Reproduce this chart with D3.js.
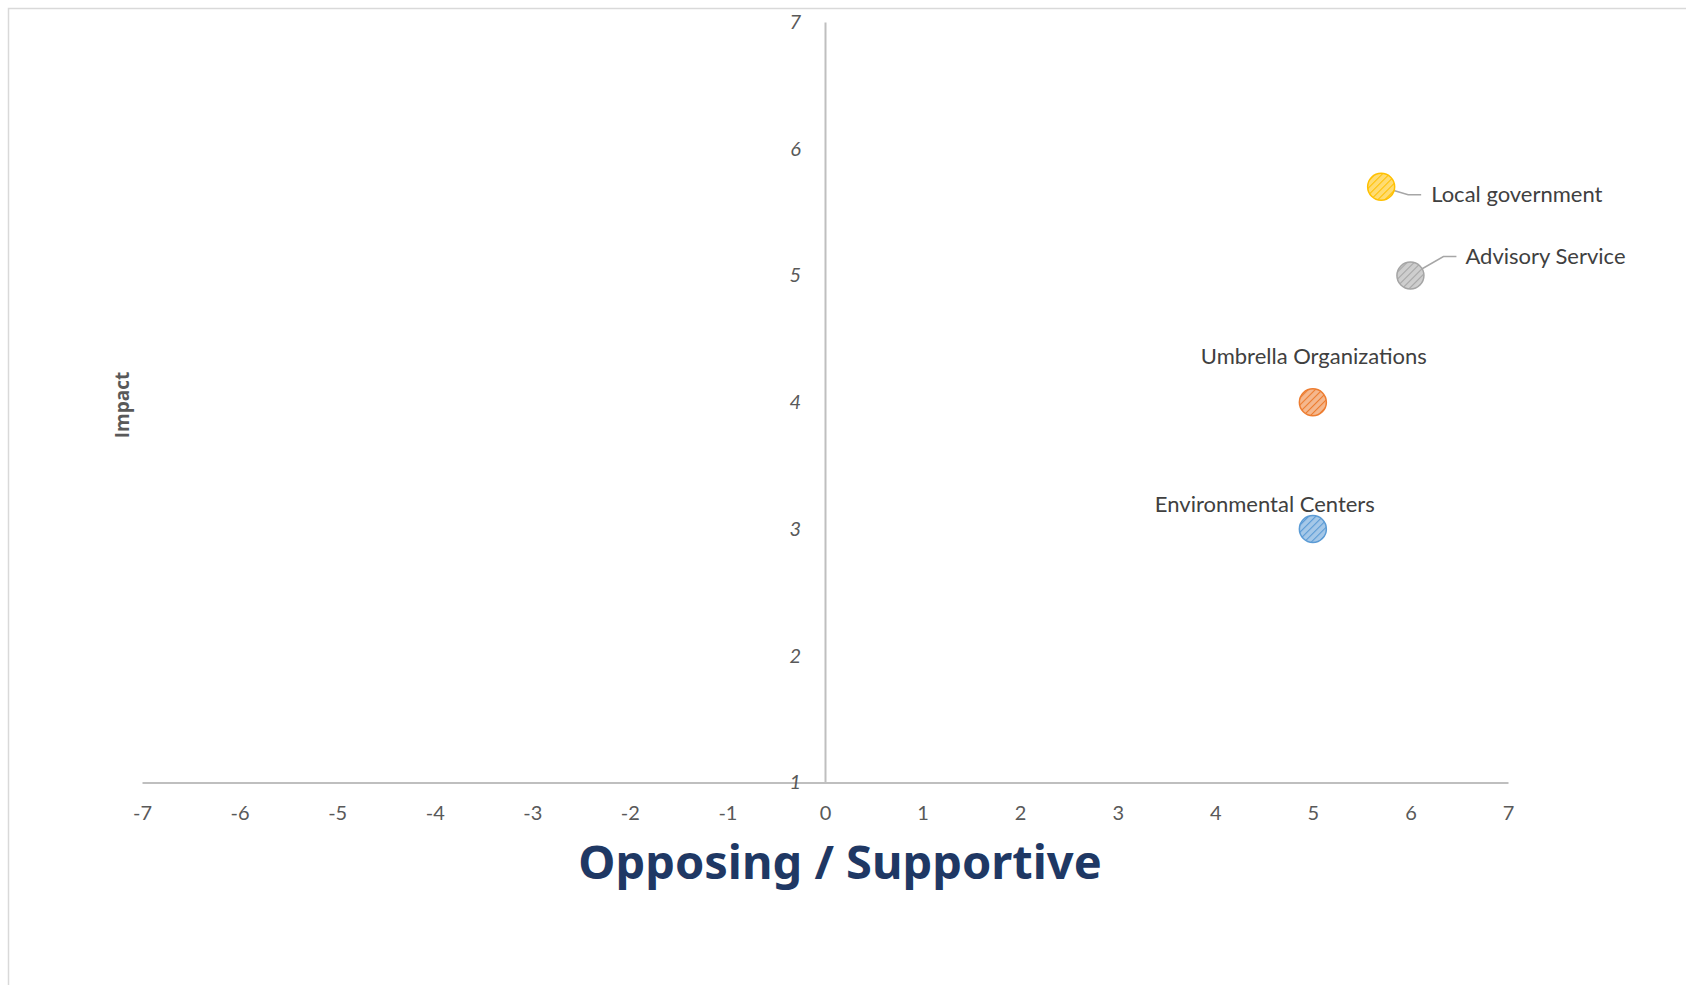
<!DOCTYPE html>
<html>
<head>
<meta charset="utf-8">
<script src="https://cdn.jsdelivr.net/npm/d3@7"></script>
<style>
  html, body { margin: 0; padding: 0; background: #ffffff; }
  svg { display: block; }
</style>
</head>
<body>
<svg id="chart" width="1686" height="985"></svg>
<script>
// Stakeholder positions: support (x) against impact (y)
const stakeholders = ["Local government", "Advisory Service", "Umbrella Organizations", "Environmental Centers"];
const supportValues = [5.7, 6, 5, 5];
const impactValues = [5.7, 5, 4, 3];
const seriesColors = ["#FFC000", "#A5A5A5", "#ED7D31", "#5B9BD5"];
const xTickValues = [-7, -6, -5, -4, -3, -2, -1, 0, 1, 2, 3, 4, 5, 6, 7];
const yTickValues = [1, 2, 3, 4, 5, 6, 7];

// Label placement relative to each marker (pixels): leader elbow, label anchor
const labelLayout = [
  { leader: [[27, 8], [40, 8]], dx: 50, dy: 7, anchor: "start" },
  { leader: [[33, -19], [46, -19]], dx: 55, dy: -20, anchor: "start" },
  { leader: null, dx: 1, dy: -47, anchor: "middle" },
  { leader: null, dx: -48, dy: -26, anchor: "middle" }
];

const svg = d3.select("#chart");
const textColor = "#595959";
const axisColor = "#BFBFBF";
const baseFont = "Lato, 'Open Sans', sans-serif";
const plainInt = d => String(d);

// Chart frame
svg.append("rect")
  .attr("x", 8.5).attr("y", 8.5)
  .attr("width", 1700).attr("height", 1000)
  .attr("fill", "none")
  .attr("stroke", "#D9D9D9")
  .attr("stroke-width", 1.5);

const x = d3.scaleLinear().domain([-7, 7]).range([142, 1508]);
const y = d3.scaleLinear().domain([1, 7]).range([782.5, 22]);

// Hatched fills for the markers
const defs = svg.append("defs");
seriesColors.forEach((c, i) => {
  const p = defs.append("pattern")
    .attr("id", "hatch" + i)
    .attr("patternUnits", "userSpaceOnUse")
    .attr("width", 5).attr("height", 5)
    .attr("patternTransform", "rotate(45)");
  p.append("rect").attr("width", 5).attr("height", 5)
    .attr("fill", d3.interpolateRgb(c, "#ffffff")(0.45));
  p.append("line")
    .attr("x1", 0).attr("y1", 0).attr("x2", 0).attr("y2", 5)
    .attr("stroke", c).attr("stroke-width", 2.2);
});

// Horizontal axis (crosses at impact = 1)
const xAxis = svg.append("g")
  .attr("transform", `translate(0,${y(1)})`)
  .call(d3.axisBottom(x).tickValues(xTickValues).tickSize(0).tickSizeOuter(0).tickPadding(23)
    .tickFormat(plainInt));
xAxis.select(".domain").attr("stroke", axisColor).attr("stroke-width", 2);
xAxis.selectAll("text")
  .attr("fill", textColor)
  .style("font-family", baseFont)
  .style("font-size", "20px");

// Vertical axis (crosses at support = 0)
const yAxis = svg.append("g")
  .attr("transform", `translate(${x(0)},0)`)
  .call(d3.axisLeft(y).tickValues(yTickValues).tickSize(0).tickSizeOuter(0).tickPadding(24)
    .tickFormat(plainInt));
yAxis.select(".domain").attr("stroke", axisColor).attr("stroke-width", 2);
yAxis.selectAll("text")
  .attr("fill", textColor)
  .style("font-family", baseFont)
  .style("font-style", "italic")
  .style("font-size", "20px");

// Axis titles
svg.append("text")
  .attr("x", 840).attr("y", 861)
  .attr("text-anchor", "middle")
  .attr("dominant-baseline", "central")
  .attr("fill", "#1F3864")
  .style("font-family", "'Noto Sans', sans-serif")
  .style("font-weight", "bold")
  .style("font-size", "47px")
  .text("Opposing / Supportive");

svg.append("text")
  .attr("transform", "translate(121.5,405) rotate(-90)")
  .attr("text-anchor", "middle")
  .attr("dominant-baseline", "central")
  .attr("fill", textColor)
  .style("font-family", "'Open Sans', sans-serif")
  .style("font-weight", "bold")
  .style("font-size", "19px")
  .text("Impact");

const points = stakeholders.map((name, i) => ({
  name, sx: supportValues[i], iy: impactValues[i], color: seriesColors[i], layout: labelLayout[i], i
}));

// Leader lines
points.filter(d => d.layout.leader).forEach(d => {
  const cx = x(d.sx), cy = y(d.iy);
  const pts = [[cx, cy]].concat(d.layout.leader.map(([dx, dy]) => [cx + dx, cy + dy]));
  svg.append("path")
    .attr("d", d3.line()(pts))
    .attr("fill", "none")
    .attr("stroke", "#A6A6A6")
    .attr("stroke-width", 1.5);
});

// Markers
svg.selectAll("circle.marker")
  .data(points)
  .join("circle")
  .attr("class", "marker")
  .attr("cx", d => x(d.sx))
  .attr("cy", d => y(d.iy))
  .attr("r", 13.5)
  .attr("fill", d => `url(#hatch${d.i})`)
  .attr("stroke", d => d.color)
  .attr("stroke-width", 1.5);

// Data labels
svg.selectAll("text.label")
  .data(points)
  .join("text")
  .attr("class", "label")
  .attr("x", d => x(d.sx) + d.layout.dx)
  .attr("y", d => y(d.iy) + d.layout.dy)
  .attr("text-anchor", d => d.layout.anchor)
  .attr("dominant-baseline", "central")
  .attr("fill", "#404040")
  .style("font-family", baseFont)
  .style("font-size", "22px")
  .text(d => d.name);
</script>
</body>
</html>
